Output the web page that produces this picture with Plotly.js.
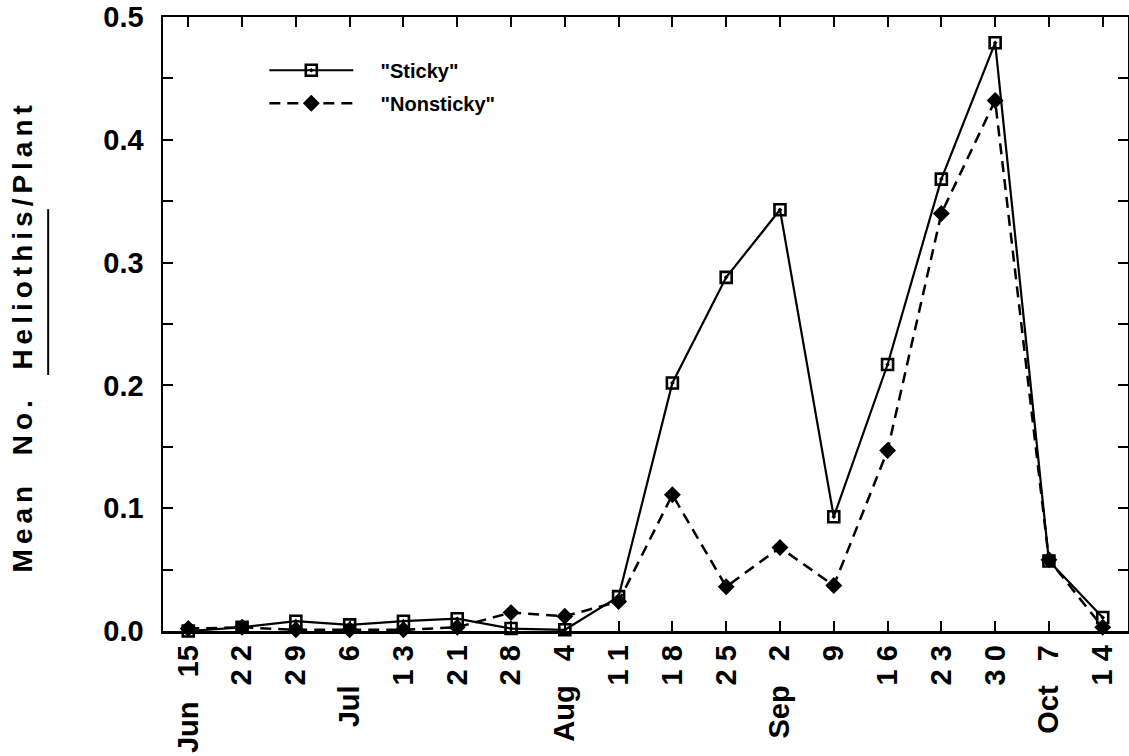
<!DOCTYPE html>
<html>
<head>
<meta charset="utf-8">
<script src="https://cdn.plot.ly/plotly-3.0.1.min.js"></script>
<style>
  html, body { margin: 0; padding: 0; background: #fff; }
  #chart { width: 1129px; height: 756px; }
  .annotation-text.ytitle-text { letter-spacing: 5px; }
</style>
</head>
<body>
<div id="chart"></div>
<script>
// Sampling dates (weekly), shown as rotated tick labels
const dates = ["Jun\u00a0\u00a0\u00a015", "2 2", "2 9", "Jul\u00a0\u00a0\u00a06", "1 3", "2 1", "2 8",
               "Aug\u00a0\u00a0\u00a04", "1 1", "1 8", "2 5", "Sep\u00a0\u00a0\u00a02", "9", "1 6",
               "2 3", "3 0", "Oct\u00a0\u00a0\u00a07", "1 4"];

// Mean number of Heliothis per plant
const sticky    = [0.000, 0.003, 0.008, 0.005, 0.008, 0.010, 0.002, 0.001, 0.028, 0.202,
                   0.288, 0.343, 0.093, 0.217, 0.368, 0.479, 0.057, 0.011];
const nonsticky = [0.002, 0.003, 0.001, 0.001, 0.001, 0.003, 0.015, 0.012, 0.024, 0.111,
                   0.036, 0.068, 0.037, 0.147, 0.340, 0.432, 0.058, 0.003];

const seriesNames = ['"Sticky"', '"Nonsticky"'];
const yTitle = 'Mean\u00a0\u00a0No.\u00a0\u00a0Heliothis/Plant';

const FONT = 'Liberation Sans, Arial, Helvetica, sans-serif';
const PAD = '\u00a0\u00a0\u00a0\u00a0';

const traces = [
  {
    x: dates, y: sticky, name: PAD + seriesNames[0], legendgroup: 'a',
    type: 'scatter', mode: 'lines+markers', cliponaxis: false,
    line: { color: '#000', width: 2.2 },
    marker: { symbol: 'square-open-dot', size: 11, color: '#000', line: { color: '#000', width: 2.6 } }
  },
  {
    x: dates, y: nonsticky, name: PAD + seriesNames[1], legendgroup: 'b',
    type: 'scatter', mode: 'lines+markers', cliponaxis: false,
    line: { color: '#000', width: 2.5, dash: '11px,7px' },
    marker: { symbol: 'diamond', size: 13, color: '#000' }
  }
];

const layout = {
  width: 1129, height: 756,
  margin: { l: 163, r: 1, t: 17, b: 125 },
  paper_bgcolor: '#fff', plot_bgcolor: '#fff',
  showlegend: true,
  legend: {
    x: 0.105, y: 0.945, xanchor: 'left', yanchor: 'top',
    bgcolor: 'rgba(0,0,0,0)', borderwidth: 0,
    itemwidth: 84, traceorder: 'grouped', tracegroupgap: 4,
    font: { family: FONT, size: 20, weight: 'bold', color: '#000' }
  },
  xaxis: {
    type: 'category', range: [-0.47, 17.47],
    showline: true, linecolor: '#000', linewidth: 2.5, mirror: 'ticks',
    ticks: 'inside', ticklen: 10, tickwidth: 2, tickcolor: '#000',
    tickangle: -90, showgrid: false, zeroline: false,
    tickfont: { family: FONT, size: 29, weight: 'bold', color: '#000' }
  },
  yaxis: {
    range: [0, 0.5], dtick: 0.1, tickformat: '.1f',
    showline: true, linecolor: '#000', linewidth: 2.5, mirror: 'ticks',
    ticks: 'inside', ticklen: 10, tickwidth: 2, tickcolor: '#000',
    ticklabelstandoff: 11,
    minor: { dtick: 0.05, ticks: 'inside', ticklen: 10, tickwidth: 2, tickcolor: '#000' },
    showgrid: false, zeroline: false,
    tickfont: { family: FONT, size: 29, weight: 'bold', color: '#000' }
  },
  annotations: [{
    text: yTitle, textangle: -90, showarrow: false,
    xref: 'paper', yref: 'paper', x: -0.146, y: 0.48,
    xanchor: 'center', yanchor: 'middle',
    font: { family: FONT, size: 28, weight: 'bold', color: '#000' }
  }],
  // underline beneath the genus name in the axis title
  shapes: [{
    type: 'line', xref: 'paper', yref: 'paper',
    x0: -0.119, x1: -0.119, y0: 0.417, y1: 0.687,
    line: { color: '#000', width: 2 }
  }]
};

Plotly.newPlot('chart', traces, layout, { staticPlot: true, displayModeBar: false }).then(function () {
  // widen the spacing of the rotated axis title
  document.querySelectorAll('.annotation-text').forEach(function (t) {
    t.classList.add('ytitle-text');
  });
});
</script>
</body>
</html>
